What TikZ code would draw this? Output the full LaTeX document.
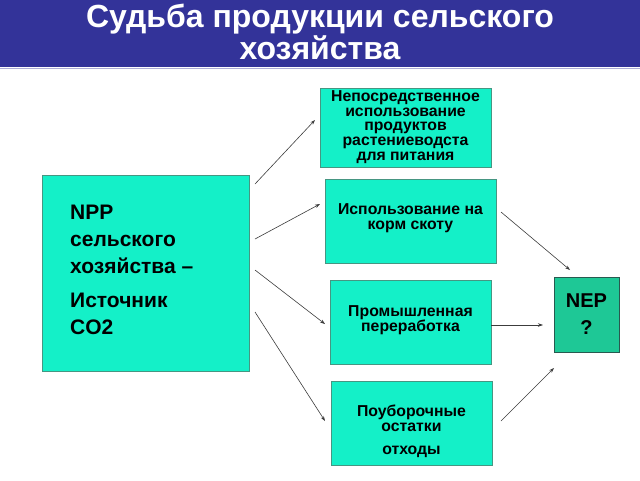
\documentclass[tikz,border=0pt]{standalone}
\usepackage{fontspec}
\setmainfont{Liberation Sans}
\usetikzlibrary{arrows.meta}
\definecolor{band}{RGB}{51,51,153}
\definecolor{aqua}{RGB}{20,240,200}
\definecolor{aquaedge}{RGB}{70,150,130}
\definecolor{nepfill}{RGB}{30,200,150}
\definecolor{nepedge}{RGB}{40,90,80}
\definecolor{arr}{RGB}{60,60,60}
\tikzset{
  box/.style={draw=aquaedge, fill=aqua, line width=0.8pt, inner sep=0pt},
  nepbox/.style={draw=nepedge, fill=nepfill, line width=0.8pt, inner sep=0pt},
  smalltxt/.style={align=center, inner sep=0pt, font=\bfseries\fontsize{15.8}{14.9}\selectfont},
  conn/.style={draw=arr, line width=0.6pt, -{Stealth[length=5pt,width=3.5pt]}}
}
\begin{document}
\begin{tikzpicture}[x=1pt,y=1pt]
\useasboundingbox (0,0) rectangle (640,-480);
% title band
\fill[band] (0,0) rectangle (640,-67);
\draw[color=band!40, line width=1pt] (0,-68) -- (640,-68);
\node[text=white, align=center, inner sep=0pt, font=\bfseries\fontsize{32}{30}\selectfont] (title) at (320,-32)
  {Судьба продукции сельского\\хозяйства};
% left box
\node[box, minimum width=207pt, minimum height=196pt] (src) at (145.5,-273) {};
\node[align=left, inner sep=0pt, anchor=west, font=\bfseries\fontsize{21}{27}\selectfont] (srct) at (70,-270)
  {NPP\\сельского\\хозяйства –\\[7pt]Источник\\CO2};
% right boxes
\node[box, minimum width=171pt, minimum height=79pt] (b1) at (405.5,-127.5) {};
\node[smalltxt, font=\bfseries\fontsize{15.8}{14.75}\selectfont] (b1t) at (405.5,-127) {Непосредственное\\использование\\продуктов\\растениеводста\\для питания};
\node[box, minimum width=171pt, minimum height=84pt] (b2) at (410.5,-221) {};
\node[smalltxt] (b2t) at (410.5,-218.5) {Использование на\\корм скоту};
\node[box, minimum width=161pt, minimum height=84pt] (b3) at (410.5,-322) {};
\node[smalltxt] (b3t) at (410.5,-320) {Промышленная\\переработка};
\node[box, minimum width=161pt, minimum height=84pt] (b4) at (411.5,-423) {};
\node[smalltxt] (b4t) at (411.5,-431) {Поуборочные\\остатки\\[8pt]отходы};
% NEP
\node[nepbox, minimum width=65pt, minimum height=75pt, align=center,
      font=\bfseries\fontsize{20}{27}\selectfont] (nep) at (586.5,-314.5) {NEP\\?};
% arrow ends
\coordinate (s1) at (255,-184); \coordinate (e1) at (315,-120);
\coordinate (s2) at (255,-239); \coordinate (e2) at (320,-204);
\coordinate (s3) at (255,-270); \coordinate (e3) at (325,-324);
\coordinate (s4) at (255,-312); \coordinate (e4) at (325,-421);
\coordinate (s5) at (501,-212); \coordinate (e5) at (570,-270);
\coordinate (e6) at (543,-325);
\coordinate (s7) at (501,-421); \coordinate (e7) at (554,-368);
\draw[conn] (s1) -- (e1);
\draw[conn] (s2) -- (e2);
\draw[conn] (s3) -- (e3);
\draw[conn] (s4) -- (e4);
\draw[conn] (s5) -- (e5);
\draw[conn] (b3.east |- e6) -- (e6);
\draw[conn] (s7) -- (e7);
\end{tikzpicture}
\end{document}
